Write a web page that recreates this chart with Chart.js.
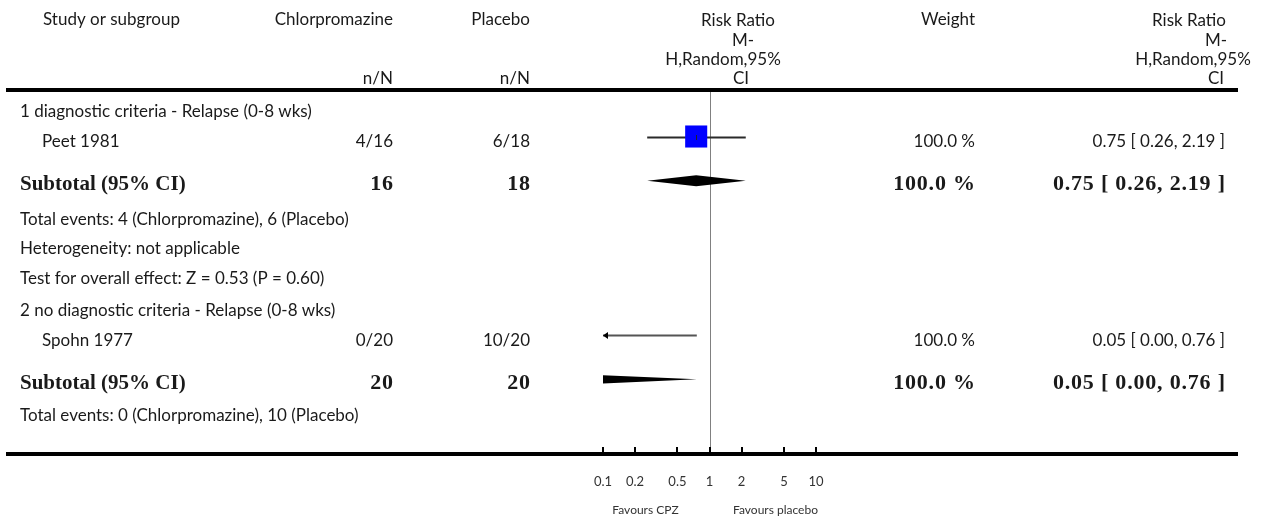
<!DOCTYPE html>
<html>
<head>
<meta charset="utf-8">
<script src="https://cdn.jsdelivr.net/npm/chart.js@4.4.1/dist/chart.umd.min.js"></script>
<style>
  html, body { margin: 0; padding: 0; background: #fff; }
  #wrap { width: 1268px; height: 521px; }
</style>
</head>
<body>
<div id="wrap"><canvas id="forest" width="1268" height="521"></canvas></div>
<script>
// ---- data ----
const headerLabels = ['Study or subgroup', 'Chlorpromazine', 'Placebo', 'Weight'];
const effectHeader = ['Risk Ratio', 'M-', 'H,Random,95%', 'CI'];
const groupTitles = ['1 diagnostic criteria - Relapse (0-8 wks)', '2 no diagnostic criteria - Relapse (0-8 wks)'];
const studyNames = ['Peet 1981', 'Spohn 1977'];
const cpzEvents = ['4/16', '0/20'];
const placeboEvents = ['6/18', '10/20'];
const studyRR = [0.75, 0.05];
const studyLo = [0.26, 0.00];
const studyHi = [2.19, 0.76];
const studyWeight = ['100.0 %', '100.0 %'];
const subtotalCpzN = [16, 20];
const subtotalPlaceboN = [18, 20];
const subtotalRR = [0.75, 0.05];
const subtotalLo = [0.26, 0.00];
const subtotalHi = [2.19, 0.76];
const subtotalWeight = ['100.0 %', '100.0 %'];
const totalEvents = ['Total events: 4 (Chlorpromazine), 6 (Placebo)', 'Total events: 0 (Chlorpromazine), 10 (Placebo)'];
const heterogeneity = ['Heterogeneity: not applicable', null];
const overallEffect = ['Test for overall effect: Z = 0.53 (P = 0.60)', null];
const tickValues = [0.1, 0.2, 0.5, 1, 2, 5, 10];
const tickLabels = ['0.1', '0.2', '0.5', '1', '2', '5', '10'];
const favoursLabels = ['Favours CPZ', 'Favours placebo'];

// ---- layout ----
const fontNormal = '17px Lato';
const fontBold = 'bold 21px "Liberation Serif"';
const fontBoldNum = 'bold 22px "Liberation Serif"';
const textColor = '#1a1a1a';

const rows = [];
let pos = 0;
function addRow(kind, g, gap) {
    pos += gap;
    rows.push({ kind: kind, g: g, y: pos });
}
groupTitles.forEach((t, g) => {
    addRow('group', g, g === 0 ? 0 : 1.1);
    addRow('study', g, 1);
    addRow('subtotal', g, 1.45);
    addRow('events', g, g === 0 ? 1.18 : 1.12);
    if (heterogeneity[g]) addRow('het', g, 1);
    if (overallEffect[g]) addRow('test', g, 1);
});
const rowOf = (kind, g) => rows.find(r => r.kind === kind && r.g === g).y;

function fmtCI(rr, lo, hi) {
    return rr.toFixed(2) + ' [ ' + lo.toFixed(2) + ', ' + hi.toFixed(2) + ' ]';
}

function txt(ctx, s, x, y, align, font, spacing) {
    ctx.font = font || fontNormal;
    ctx.textAlign = align || 'left';
    ctx.letterSpacing = spacing ? spacing + 'px' : '0px';
    ctx.fillText(s, align === 'right' && spacing ? x + spacing : x, y);
    ctx.letterSpacing = '0px';
}

const forestPlugin = {
    id: 'forest',
    beforeDatasetsDraw(chart) {
        const { ctx, chartArea: a } = chart;
        const x = chart.scales.x, y = chart.scales.y;
        ctx.save();
        // heavy rules
        ctx.fillStyle = '#000';
        ctx.fillRect(6, a.top - 2, 1232, 4);
        ctx.fillRect(6, a.bottom - 2, 1232, 4);
        // line of no effect
        const x1 = Math.round(x.getPixelForValue(1)) + 0.5;
        ctx.strokeStyle = '#808080';
        ctx.lineWidth = 1;
        ctx.beginPath();
        ctx.moveTo(x1, a.top + 2);
        ctx.lineTo(x1, a.bottom - 2);
        ctx.stroke();
        // tick marks (inside)
        tickValues.forEach(v => {
            const px = Math.round(x.getPixelForValue(v));
            ctx.fillRect(px - 1, a.bottom - 7, 2, 5);
        });

        // clip to plot area horizontally
        ctx.beginPath();
        ctx.rect(a.left, 0, a.right - a.left, chart.height);
        ctx.clip();

        // study CIs
        studyRR.forEach((rr, i) => {
            const py = Math.round(y.getPixelForValue(rowOf('study', i))) + 0.5;
            const lo = studyLo[i] > x.min ? x.getPixelForValue(studyLo[i]) : a.left;
            const hi = studyHi[i] < x.max ? x.getPixelForValue(studyHi[i]) : a.right;
            ctx.strokeStyle = rr >= x.min ? '#2a2a2a' : '#555';
            ctx.lineWidth = 2;
            ctx.beginPath();
            ctx.moveTo(lo, py);
            ctx.lineTo(hi, py);
            ctx.stroke();
            ctx.fillStyle = '#000';
            if (studyLo[i] < x.min) {
                ctx.beginPath();
                ctx.moveTo(a.left, py);
                ctx.lineTo(a.left + 5, py - 3.5);
                ctx.lineTo(a.left + 5, py + 3.5);
                ctx.closePath();
                ctx.fill();
            }
            if (studyHi[i] > x.max) {
                ctx.beginPath();
                ctx.moveTo(a.right, py);
                ctx.lineTo(a.right - 5, py - 3.5);
                ctx.lineTo(a.right - 5, py + 3.5);
                ctx.closePath();
                ctx.fill();
            }
        });

        // subtotal diamonds
        subtotalRR.forEach((rr, g) => {
            const py = y.getPixelForValue(rowOf('subtotal', g)) + 1.5;
            const h = 5.5;
            const pl = subtotalLo[g] > 0 ? x.getPixelForValue(subtotalLo[g]) : a.left - 3000;
            const pm = x.getPixelForValue(rr);
            const ph = x.getPixelForValue(subtotalHi[g]);
            ctx.fillStyle = '#000';
            ctx.beginPath();
            ctx.moveTo(pl, py);
            ctx.lineTo(pm, py - h);
            ctx.lineTo(ph, py);
            ctx.lineTo(pm, py + h);
            ctx.closePath();
            ctx.fill();
        });
        ctx.restore();
    },
    afterDatasetsDraw(chart) {
        const { ctx } = chart;
        const x = chart.scales.x, y = chart.scales.y;
        ctx.save();
        ctx.fillStyle = '#222';
        studyRR.forEach((rr, i) => {
            if (rr < x.min || rr > x.max) return;
            const px = Math.round(x.getPixelForValue(rr));
            const py = Math.round(y.getPixelForValue(rowOf('study', i)));
            ctx.fillRect(px, py - 2, 1, 5);
        });
        ctx.restore();
    },
    afterDraw(chart) {
        const { ctx } = chart;
        const x = chart.scales.x, y = chart.scales.y;
        ctx.save();
        ctx.fillStyle = textColor;
        ctx.textBaseline = 'alphabetic';

        // header
        txt(ctx, headerLabels[0], 43, 25, 'left');
        txt(ctx, headerLabels[1], 393, 25, 'right');
        txt(ctx, headerLabels[2], 530, 25, 'right');
        txt(ctx, headerLabels[3], 975, 25, 'right');
        txt(ctx, 'n/N', 393, 84, 'right');
        txt(ctx, 'n/N', 530, 84, 'right');
        const hdrBase = [26, 45.5, 65, 84];
        const midCx = [738, 743, 723, 741];
        const rightCx = [1189, 1216, 1193, 1216];
        effectHeader.forEach((s, k) => {
            txt(ctx, s, midCx[k], hdrBase[k], 'center');
            txt(ctx, s, rightCx[k], hdrBase[k], 'center');
        });

        // body rows
        rows.forEach(r => {
            const py = y.getPixelForValue(r.y);
            const g = r.g;
            const bn = py + 10.5;
            const bb = py + 11;
            if (r.kind === 'group') txt(ctx, groupTitles[g], 20, bn);
            if (r.kind === 'study') {
                txt(ctx, studyNames[g], 42, bn);
                txt(ctx, cpzEvents[g], 393, bn, 'right');
                txt(ctx, placeboEvents[g], 530, bn, 'right');
                txt(ctx, studyWeight[g], 975, bn, 'right');
                txt(ctx, fmtCI(studyRR[g], studyLo[g], studyHi[g]), 1225, bn, 'right');
            }
            if (r.kind === 'subtotal') {
                txt(ctx, 'Subtotal (95% CI)', 20, bb, 'left', fontBold);
                txt(ctx, String(subtotalCpzN[g]), 393, bb, 'right', fontBoldNum, 0.8);
                txt(ctx, String(subtotalPlaceboN[g]), 530, bb, 'right', fontBoldNum, 0.8);
                txt(ctx, subtotalWeight[g], 975, bb, 'right', fontBoldNum, 0.8);
                txt(ctx, fmtCI(subtotalRR[g], subtotalLo[g], subtotalHi[g]), 1225, bb, 'right', fontBoldNum, 0.8);
            }
            if (r.kind === 'events') txt(ctx, totalEvents[g], 20, bn);
            if (r.kind === 'het') txt(ctx, heterogeneity[g], 20, bn);
            if (r.kind === 'test') txt(ctx, overallEffect[g], 20, bn);
        });

        // favours labels
        ctx.fillStyle = '#333';
        const x1 = x.getPixelForValue(1);
        txt(ctx, favoursLabels[0], x1 - 64, 514, 'center', '12px Lato');
        txt(ctx, favoursLabels[1], x1 + 66, 514, 'center', '12px Lato');
        ctx.restore();
    }
};

const ctx = document.getElementById('forest').getContext('2d');
const chart = new Chart(ctx, {
    type: 'scatter',
    data: {
        datasets: [{
            label: 'Risk Ratio',
            data: studyRR.map((v, i) => ({ x: v, y: rowOf('study', i) })),
            pointStyle: 'rect',
            pointRadius: 15.6,
            backgroundColor: '#0000ff',
            borderWidth: 0,
            clip: 0
        }]
    },
    options: {
        responsive: false,
        animation: false,
        events: [],
        devicePixelRatio: 1,
        layout: { padding: { left: 603, right: 452, top: 90, bottom: 0 } },
        plugins: {
            legend: { display: false },
            tooltip: { enabled: false }
        },
        scales: {
            x: {
                type: 'logarithmic',
                min: 0.1,
                max: 10,
                grid: { display: false },
                border: { display: false },
                afterBuildTicks: s => { s.ticks = tickValues.map(v => ({ value: v })); },
                afterFit: s => { s.height = 67; },
                ticks: {
                    autoSkip: false,
                    maxRotation: 0,
                    padding: 12,
                    color: '#333',
                    font: { family: 'Lato', size: 13 },
                    callback: (v, i) => tickLabels[i]
                }
            },
            y: {
                type: 'linear',
                reverse: true,
                min: -0.576,
                max: 11.76,
                display: false
            }
        }
    },
    plugins: [forestPlugin]
});
</script>
</body>
</html>
